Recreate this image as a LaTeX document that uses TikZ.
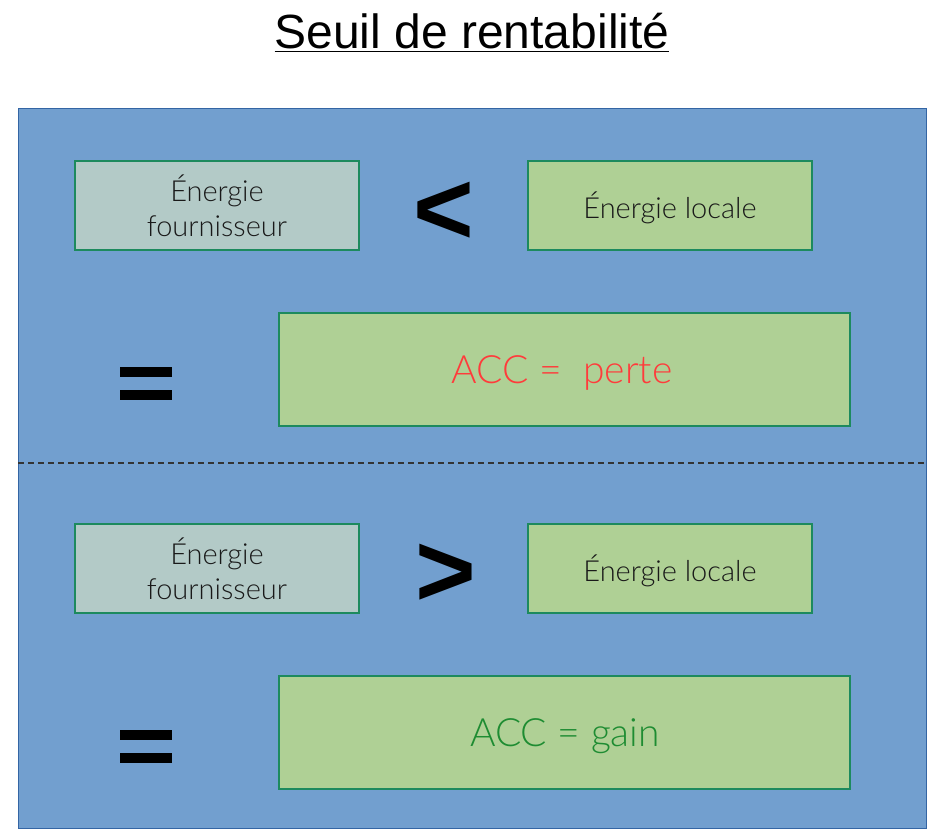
\documentclass[tikz,border=0pt]{standalone}
\usepackage{fontspec}
\setmainfont{Liberation Sans}
\IfFontExistsTF{Lato Light}
  {\newfontfamily\boxfont{Lato Light}}
  {\newfontfamily\boxfont{Lato}}
\newfontfamily\signfont{Liberation Sans}
\definecolor{panelblue}{HTML}{729FCF}
\definecolor{paneledge}{HTML}{3465A4}
\definecolor{boxedge}{HTML}{1D8A5E}
\definecolor{greyfill}{HTML}{B3CAC7}
\definecolor{greenfill}{HTML}{AFD095}
\definecolor{losscol}{HTML}{FF3B3B}
\definecolor{gaincol}{HTML}{1E8C32}
\tikzset{
  smallbox/.style={draw=boxedge, line width=1.2pt, minimum width=284pt, minimum height=89pt,
    inner sep=0pt},
  supplierbox/.style={smallbox, fill=greyfill},
  localbox/.style={smallbox, fill=greenfill},
  boxtext/.style={inner sep=0pt, align=center, font=\boxfont\fontsize{29}{35}\selectfont, text=black!90},
  resultbox/.style={draw=boxedge, line width=1.2pt, fill=greenfill, minimum width=571pt,
    minimum height=113pt, inner sep=0pt},
  resulttext/.style={inner sep=0pt, font=\boxfont\fontsize{39}{44}\selectfont},
  sign/.style={inner sep=0pt, font=\signfont\bfseries\fontsize{104}{104}\selectfont},
  eqbar/.style={fill=black, inner sep=0pt, minimum width=52pt, minimum height=10pt}
}
\begin{document}
\begin{tikzpicture}[x=1pt, y=-1pt]
  \useasboundingbox (0,0) rectangle (933,834);
  % title
  \node[font=\fontsize{48}{50}\selectfont, anchor=base] (title) at (472,49) {\underline{Seuil de rentabilité}};
  % background panel
  \draw[fill=panelblue, draw=paneledge, line width=0.8pt] (18,108) rectangle (926,828);
  % separator between the two cases
  \coordinate (sepL) at (18,463);
  \coordinate (sepR) at (926,463);
  \draw[draw=black!80, line width=1.3pt, dash pattern=on 6pt off 4pt] (sepL) -- (sepR);
  % first case
  \node[supplierbox] (sup1) at (217,205.5) {};
  \node[boxtext] (sup1txt) at (217,206) {Énergie\\fournisseur};
  \node[localbox] (loc1) at (670,205.5) {};
  \node[boxtext] (loc1txt) at (670,208) {Énergie locale};
  \node[sign] (lt) at (444,213) {<};
  \node[eqbar] (eq1a) at (146,372) {};
  \node[eqbar] (eq1b) at (146,395) {};
  \node[resultbox] (res1) at (564.5,369.5) {};
  \node[resulttext, text=losscol] (res1txt) at (562,373) {ACC = \ perte};
  % second case
  \node[supplierbox] (sup2) at (217,568.5) {};
  \node[boxtext] (sup2txt) at (217,569) {Énergie\\fournisseur};
  \node[localbox] (loc2) at (670,568.5) {};
  \node[boxtext] (loc2txt) at (670,571) {Énergie locale};
  \node[sign] (gt) at (446,575) {>};
  \node[eqbar] (eq2a) at (146,735) {};
  \node[eqbar] (eq2b) at (146,758) {};
  \node[resultbox] (res2) at (564.5,732.5) {};
  \node[resulttext, text=gaincol] (res2txt) at (565,736) {ACC = gain};
\end{tikzpicture}
\end{document}
